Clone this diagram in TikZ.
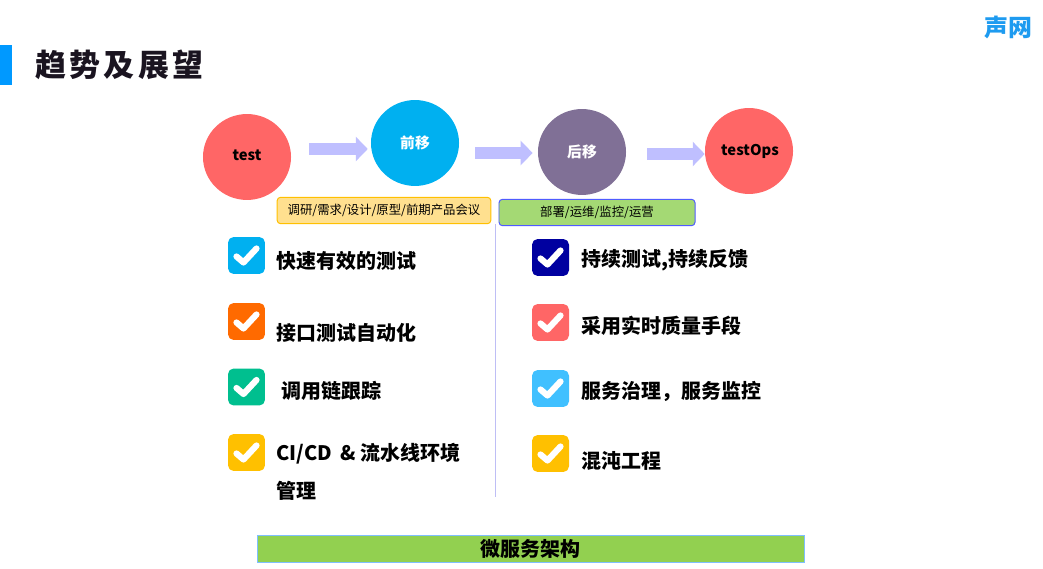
\documentclass[tikz,border=0pt]{standalone}
\usepackage{fontspec}
\setmainfont{Noto Sans CJK SC}
\newfontfamily\titlefont[UprightFont=* Black,LetterSpace=11]{Noto Sans CJK SC}
\usetikzlibrary{arrows.meta}
\usetikzlibrary{shapes.geometric}

\definecolor{barblue}{HTML}{0099FF}
\definecolor{logoblue}{HTML}{1E9BF0}
\definecolor{titledark}{HTML}{1A1420}
\definecolor{flowblue}{HTML}{BFBFFF}
\definecolor{testred}{HTML}{FF6666}
\definecolor{leftblue}{HTML}{00B0F0}
\definecolor{rightpurple}{HTML}{807096}
\definecolor{noteyellow}{HTML}{FFE08F}
\definecolor{noteedge}{HTML}{FFC000}
\definecolor{notegreen}{HTML}{A4D974}
\definecolor{greenedge}{HTML}{4F5BFF}
\definecolor{splitline}{HTML}{BEBEF5}
\definecolor{basegreen}{HTML}{92D050}
\definecolor{baseedge}{HTML}{7FBFFF}
\definecolor{chkorange}{HTML}{FF6A00}
\definecolor{chkgreen}{HTML}{00BF8F}
\definecolor{chkgold}{HTML}{FFC000}
\definecolor{chknavy}{HTML}{0000A0}
\definecolor{chksky}{HTML}{40C0FF}

\begin{document}
\begin{tikzpicture}[x=0.025cm,y=-0.025cm,
stage/.style={ellipse,inner sep=0pt,minimum width=62.6pt,minimum height=61.1pt,font=\fontsize{10.5pt}{12pt}\selectfont\bfseries},
flow/.style={-{Triangle[length=8.5pt,width=17pt]},flowblue,line width=9pt},
note/.style={rounded corners=2.5pt,line width=0.7pt,inner sep=0pt,minimum width=#1,minimum height=18.8pt,font=\fontsize{8.8pt}{10pt}\selectfont},
chkbox/.style={rounded corners=4pt,inner sep=0pt,minimum size=26.3pt},
tick/.style={white,line width=4.4pt,line cap=round,line join=round},
item/.style={anchor=west,inner sep=0pt,align=left,font=\fontsize{14.2pt}{27pt}\selectfont\bfseries}]
\useasboundingbox (0,0) rectangle (1043,569);
% The header
\fill[barblue] (0,45) rectangle (12,85);
\node[anchor=west,inner sep=0pt,text=titledark,font=\fontsize{22pt}{26pt}\titlefont\selectfont] (title) at (35,65) {趋势及展望};
\node[anchor=east,inner sep=0pt,text=logoblue,font=\fontsize{17pt}{20pt}\selectfont\bfseries] (logo) at (1033,27) {声网};
% The stages
\node[stage,fill=testred,text depth=3pt] (test) at (247,157) {test};
\node[stage,fill=leftblue,text=white] (shift left) at (415,143) {前移};
\node[stage,fill=rightpurple,text=white] (shift right) at (582,152) {后移};
\node[stage,fill=testred,xshift=0pt] (testops) at (749,151) {\hspace{1.4pt}testOps};
% The arrows between stages
\coordinate (a1) at (0,149);
\coordinate (a2) at (0,153);
\coordinate (a3) at (0,154);
\draw[flow,shorten <=12.8pt,shorten >=2.1pt] (test.east |- a1) -- (shift left.west |- a1);
\draw[flow,shorten <=11.4pt,shorten >=3.6pt] (shift left.east |- a2) -- (shift right.west |- a2);
\draw[flow,shorten <=14.9pt] (shift right.east |- a3) -- (testops.west |- a3);
% The two notes
\node[note=152pt,fill=noteyellow,draw=noteedge] (front note) at (384,210.5) {\raisebox{-1pt}{调研/需求/设计/原型/前期产品会议}};
\node[note=139.4pt,fill=notegreen,draw=greenedge] (back note) at (597,212.5) {\raisebox{-0.5pt}{部署/运维/监控/运营}};
% The line between the columns
\coordinate (split end) at (495,497);
\draw[splitline,line width=0.6pt] (split end |- front note.south) -- (split end);
% The check boxes with their texts
\foreach \nm/\xx/\yy/\col in {a/246.5/255.5/leftblue,b/246.5/321.5/chkorange,c/246.5/387/chkgreen,d/246.5/452.5/chkgold,
  e/550.5/257.5/chknavy,f/550.5/322.5/testred,g/550.5/388.5/chksky,h/550.5/453.5/chkgold}
{
  \node[chkbox,fill=\col] (chk\nm) at (\xx,\yy) {};
  \draw[tick] (chk\nm.center) +(-10,1) -- +(-3,7) -- +(10,-7);
}
\foreach \nm/\xx/\yy/\txt in {a/276/261/快速有效的测试,b/276/333/接口测试自动化,c/281/391/调用链跟踪,
  d/276/472/{CI/CD\hspace{3pt} \&\hspace{3pt}流水线环境\\管理},e/581/260/{持续测试,持续反馈},f/581/326/采用实时质量手段,
  g/581/391/{服务治理，服务监控},h/581/461/混沌工程}
{
  \node[item] (txt\nm) at (\xx,\yy) {\txt};
}
% The base bar
\node[fill=basegreen,draw=baseedge,line width=0.6pt,inner sep=0pt,minimum width=389pt,minimum height=19.2pt,font=\fontsize{14.2pt}{16pt}\selectfont\bfseries] (base) at (530.5,548.5) {微服务架构};
\end{tikzpicture}
\end{document}
